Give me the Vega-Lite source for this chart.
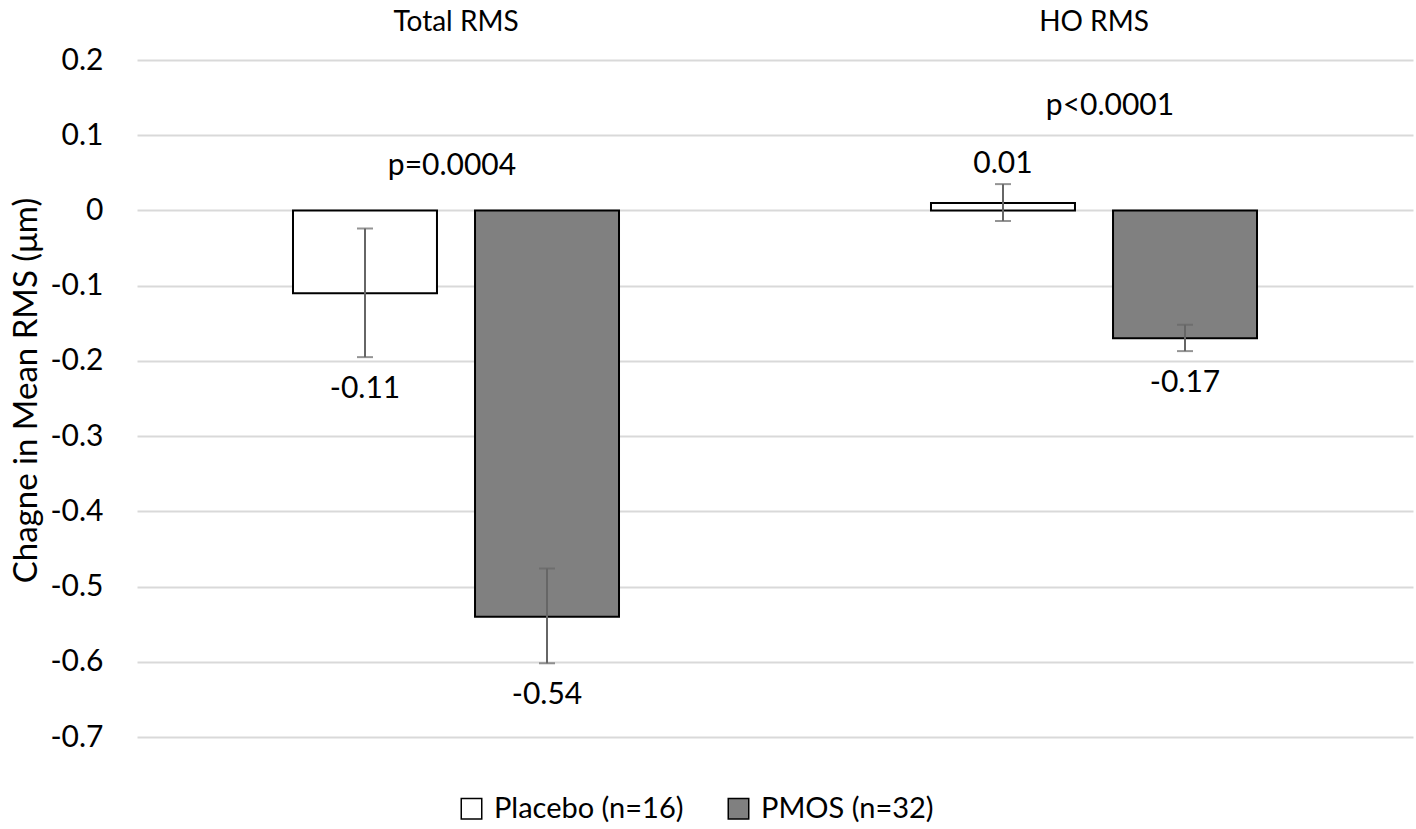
{
  "$schema": "https://vega.github.io/schema/vega-lite/v6.json",
  "width": 1276,
  "height": 677,
  "autosize": {"type": "none"},
  "padding": {"left": 137, "top": 60, "right": 3, "bottom": 92},
  "background": "white",
  "config": {
    "font": "Lato",
    "view": {"stroke": null},
    "text": {"font": "Lato", "color": "black"},
    "legend": {"padding": 0}
  },
  "datasets": {
    "bars": [
      {"measure": "Total RMS", "group": "Placebo (n=16)", "value": -0.11, "lo": -0.195, "hi": -0.024, "label": "-0.11"},
      {"measure": "Total RMS", "group": "PMOS (n=32)", "value": -0.54, "lo": -0.602, "hi": -0.476, "label": "-0.54"},
      {"measure": "HO RMS", "group": "Placebo (n=16)", "value": 0.01, "lo": -0.014, "hi": 0.035, "label": "0.01"},
      {"measure": "HO RMS", "group": "PMOS (n=32)", "value": -0.17, "lo": -0.187, "hi": -0.152, "label": "-0.17"}
    ],
    "pvals": [
      {"measure": "Total RMS", "p": "p=0.0004", "py": 0.059},
      {"measure": "HO RMS", "p": "p<0.0001", "py": 0.139}
    ]
  },
  "data": {"name": "bars"},
  "layer": [
    {
      "mark": {"type": "bar", "stroke": "black", "strokeWidth": 2},
      "encoding": {
        "x": {
          "field": "measure", "type": "nominal", "sort": ["Total RMS", "HO RMS"],
          "scale": {"paddingInner": 0, "paddingOuter": 0},
          "axis": {"orient": "top", "title": null, "labelAngle": 0, "ticks": false, "domain": false, "labelPadding": 30, "labelBaseline": "alphabetic", "labelFontSize": 28, "labelColor": "black", "labelFont": "Lato"}
        },
        "xOffset": {
          "field": "group", "type": "nominal", "sort": ["Placebo (n=16)", "PMOS (n=32)"],
          "scale": {"paddingInner": 0.209, "paddingOuter": 0.857}
        },
        "y": {
          "field": "value", "type": "quantitative",
          "title": "Chagne in Mean RMS (μm)",
          "scale": {"domain": [-0.7, 0.2], "nice": false, "zero": false},
          "axis": {
            "values": [-0.7, -0.6, -0.5, -0.4, -0.3, -0.2, -0.1, 0, 0.1, 0.2],
            "labelExpr": "datum.value < 0 ? '-' + format(-datum.value, '.1~f') : format(datum.value, '.1~f')",
            "domain": false, "ticks": false, "tickSize": 0, "labelPadding": 34,
            "labelFontSize": 30, "labelColor": "black", "labelFont": "Lato",
            "gridColor": "#d9d9d9", "gridWidth": 2,
            "titleFontSize": 33, "titleFontWeight": "normal", "titleColor": "black", "titleFont": "Lato",
            "titleAngle": 270, "titleX": -101, "titleY": 330, "titleBaseline": "alphabetic", "titleAlign": "center"
          }
        },
        "y2": {"datum": 0},
        "fill": {
          "field": "group", "type": "nominal",
          "scale": {"domain": ["Placebo (n=16)", "PMOS (n=32)"], "range": ["#ffffff", "#808080"]},
          "legend": {
            "orient": "none", "legendX": 320, "legendY": 734, "direction": "horizontal", "title": null,
            "labelFontSize": 29, "labelColor": "black", "labelFont": "Lato", "labelLimit": 0,
            "symbolType": "square", "symbolSize": 420, "symbolStrokeColor": "black", "symbolStrokeWidth": 1.5,
            "columnPadding": 40, "labelOffset": 8
          }
        }
      }
    },
    {
      "mark": {"type": "rule", "color": "#666666", "strokeWidth": 2},
      "encoding": {
        "x": {"field": "measure", "type": "nominal", "sort": ["Total RMS", "HO RMS"]},
        "xOffset": {"field": "group", "type": "nominal", "sort": ["Placebo (n=16)", "PMOS (n=32)"]},
        "y": {"field": "lo", "type": "quantitative", "title": "Chagne in Mean RMS (μm)"},
        "y2": {"field": "hi"}
      }
    },
    {
      "mark": {"type": "tick", "color": "#666666", "size": 16, "thickness": 2, "orient": "horizontal"},
      "encoding": {
        "x": {"field": "measure", "type": "nominal", "sort": ["Total RMS", "HO RMS"]},
        "xOffset": {"field": "group", "type": "nominal", "sort": ["Placebo (n=16)", "PMOS (n=32)"]},
        "y": {"field": "lo", "type": "quantitative", "title": "Chagne in Mean RMS (μm)"}
      }
    },
    {
      "mark": {"type": "tick", "color": "#666666", "size": 16, "thickness": 2, "orient": "horizontal"},
      "encoding": {
        "x": {"field": "measure", "type": "nominal", "sort": ["Total RMS", "HO RMS"]},
        "xOffset": {"field": "group", "type": "nominal", "sort": ["Placebo (n=16)", "PMOS (n=32)"]},
        "y": {"field": "hi", "type": "quantitative", "title": "Chagne in Mean RMS (μm)"}
      }
    },
    {
      "transform": [{"filter": "datum.value < 0"}],
      "mark": {"type": "text", "fontSize": 30, "baseline": "middle", "dy": 32, "color": "black"},
      "encoding": {
        "x": {"field": "measure", "type": "nominal", "sort": ["Total RMS", "HO RMS"]},
        "xOffset": {"field": "group", "type": "nominal", "sort": ["Placebo (n=16)", "PMOS (n=32)"]},
        "y": {"field": "lo", "type": "quantitative", "title": "Chagne in Mean RMS (μm)"},
        "text": {"field": "label"}
      }
    },
    {
      "transform": [{"filter": "datum.value >= 0"}],
      "mark": {"type": "text", "fontSize": 30, "baseline": "middle", "dy": -20, "color": "black"},
      "encoding": {
        "x": {"field": "measure", "type": "nominal", "sort": ["Total RMS", "HO RMS"]},
        "xOffset": {"field": "group", "type": "nominal", "sort": ["Placebo (n=16)", "PMOS (n=32)"]},
        "y": {"field": "hi", "type": "quantitative", "title": "Chagne in Mean RMS (μm)"},
        "text": {"field": "label"}
      }
    },
    {
      "data": {"name": "pvals"},
      "transform": [{"filter": "datum.measure == 'Total RMS'"}],
      "mark": {"type": "text", "fontSize": 30, "baseline": "middle", "dx": -4, "color": "black"},
      "encoding": {
        "x": {"field": "measure", "type": "nominal", "sort": ["Total RMS", "HO RMS"]},
        "y": {"field": "py", "type": "quantitative", "title": "Chagne in Mean RMS (μm)"},
        "text": {"field": "p"}
      }
    },
    {
      "data": {"name": "pvals"},
      "transform": [{"filter": "datum.measure == 'HO RMS'"}],
      "mark": {"type": "text", "fontSize": 30, "baseline": "middle", "dx": 16, "color": "black"},
      "encoding": {
        "x": {"field": "measure", "type": "nominal", "sort": ["Total RMS", "HO RMS"]},
        "y": {"field": "py", "type": "quantitative", "title": "Chagne in Mean RMS (μm)"},
        "text": {"field": "p"}
      }
    }
  ]
}
